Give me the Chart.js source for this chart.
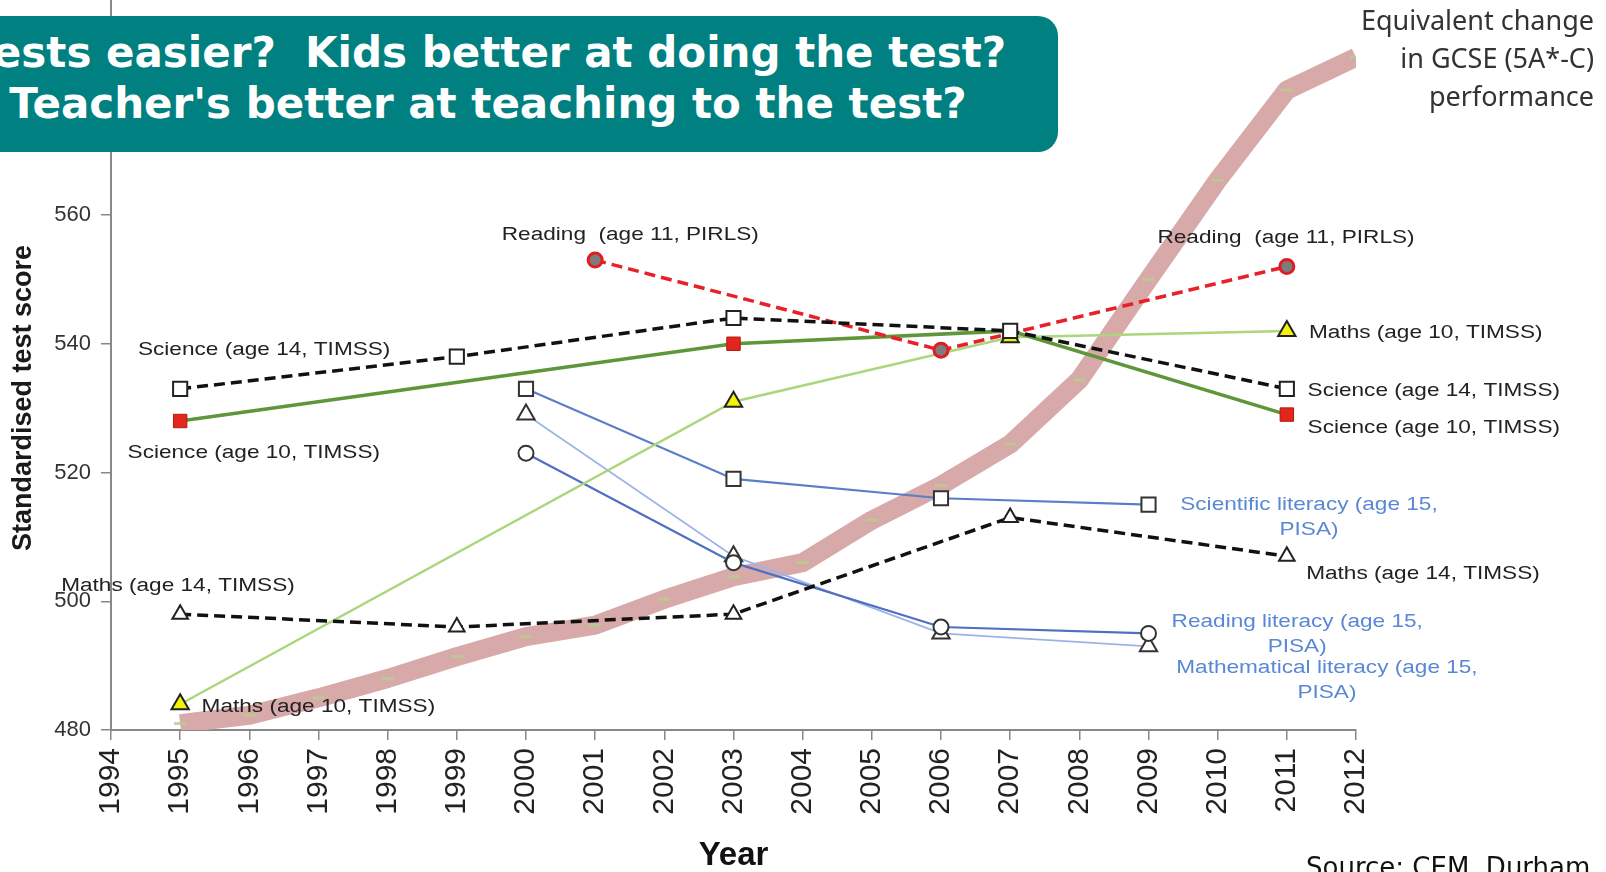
<!DOCTYPE html>
<html>
<head>
<meta charset="utf-8">
<title>Standardised test scores</title>
<script src="https://cdn.jsdelivr.net/npm/chart.js@4.4.1/dist/chart.umd.min.js"></script>
<style>
  html, body { margin: 0; padding: 0; background: #fff; overflow: hidden; }
  #wrap { position: relative; width: 1606px; height: 872px; overflow: hidden; }
  #scores { position: absolute; left: 0; top: 0; }
  .banner {
    position: absolute; left: -82px; top: 16px; width: 1140px; height: 136px;
    box-sizing: border-box; padding-top: 11px;
    background: #008080; border-radius: 20px; color: #fff;
    font: bold 42px "DejaVu Sans", Verdana, sans-serif; line-height: 51px;
    text-align: center; white-space: pre;
  }
</style>
</head>
<body>
<div id="wrap">
  <canvas id="scores" width="1606" height="872"></canvas>
  <div class="banner">Tests easier?  Kids better at doing the test?
Teacher's better at teaching to the test?</div>
</div>
<script>
// values
const scoreTicks = [480, 500, 520, 540, 560];

const pirlsYears = [2001, 2006, 2011];
const pirlsReading = [553, 539, 552];

const timss14Years = [1995, 1999, 2003, 2007, 2011];
const science14 = [533, 538, 544, 542, 533];
const maths14 = [498, 496, 498, 513, 507];

const timss10Years = [1995, 2003, 2007, 2011];
const science10 = [528, 540, 542, 529];
const maths10 = [484, 531, 541, 542];

const pisaYears = [2000, 2003, 2006, 2009];
const pisaScience = [533, 519, 516, 515];
const pisaReading = [523, 506, 496, 495];
const pisaMaths = [529, 507, 495, 493];

const gcseYears = [1995, 1996, 1997, 1998, 1999, 2000, 2001, 2002, 2003,
                   2004, 2005, 2006, 2007, 2008, 2009, 2010, 2011, 2012];
const gcseEquivalent = [481, 482.3, 485, 488, 491.4, 494.5, 496.3, 500.3, 503.8,
                        506, 512.6, 518, 524.4, 534.4, 550, 565.4, 579.4, 584.5];

const pts = (xs, ys) => xs.map((x, i) => ({ x: x, y: ys[i] }));

// text labels placed in data units
const BLUE = '#5a88d4';
const notes = [
  { text: 'Reading  (age 11, PIRLS)', year: 1999.65, score: 556.9 },
  { text: 'Reading  (age 11, PIRLS)', year: 2009.13, score: 556.5 },
  { text: 'Science (age 14, TIMSS)', year: 1994.39, score: 539.1 },
  { text: 'Science (age 10, TIMSS)', year: 1994.24, score: 523.0 },
  { text: 'Maths (age 14, TIMSS)', year: 1993.28, score: 502.3 },
  { text: 'Maths (age 10, TIMSS)', year: 1995.31, score: 483.6 },
  { text: 'Maths (age 10, TIMSS)', year: 2011.32, score: 541.6 },
  { text: 'Science (age 14, TIMSS)', year: 2011.30, score: 532.7 },
  { text: 'Science (age 10, TIMSS)', year: 2011.30, score: 526.9 },
  { text: 'Maths (age 14, TIMSS)', year: 2011.28, score: 504.2 },
  { text: 'Scientific literacy (age 15,', year: 2011.32, score: 514.95, align: 'center', color: BLUE },
  { text: 'PISA)', year: 2011.32, score: 511.1, align: 'center', color: BLUE },
  { text: 'Reading literacy (age 15,', year: 2011.15, score: 496.8, align: 'center', color: BLUE },
  { text: 'PISA)', year: 2011.15, score: 492.9, align: 'center', color: BLUE },
  { text: 'Mathematical literacy (age 15,', year: 2011.58, score: 489.7, align: 'center', color: BLUE },
  { text: 'PISA)', year: 2011.58, score: 485.7, align: 'center', color: BLUE }
];

const notesPlugin = {
  id: 'notes',
  afterDraw(chart) {
    const ctx = chart.ctx;
    const xs = chart.scales.x, ys = chart.scales.y;
    ctx.save();
    ctx.textBaseline = 'middle';
    ctx.font = '22.6px "Liberation Sans", Arial, sans-serif';
    notes.forEach(n => {
      ctx.save();
      ctx.translate(xs.getPixelForValue(n.year), ys.getPixelForValue(n.score));
      ctx.scale(1, 0.8);
      ctx.fillStyle = n.color || '#222';
      ctx.textAlign = n.align || 'left';
      ctx.fillText(n.text, 0, 0);
      ctx.restore();
    });

    // y axis title
    ctx.save();
    ctx.translate(24, 398);
    ctx.rotate(-Math.PI / 2);
    ctx.font = 'bold 27px "Liberation Sans", Arial, sans-serif';
    ctx.fillStyle = '#1a1a1a';
    ctx.textAlign = 'center';
    ctx.fillText('Standardised test score', 0, 0);
    ctx.restore();

    // GCSE note
    ctx.font = '27px "Noto Sans", "Open Sans", sans-serif';
    ctx.fillStyle = '#333';
    ctx.textAlign = 'right';
    ctx.fillText('Equivalent change', 1594, 22);
    ctx.fillText('in GCSE (5A*-C)', 1594, 60);
    ctx.fillText('performance', 1594, 98);

    // source
    ctx.font = '26px "DejaVu Sans", Verdana, sans-serif';
    ctx.fillStyle = '#111';
    ctx.textAlign = 'left';
    ctx.textBaseline = 'alphabetic';
    ctx.fillText('Source: CEM, Durham', 1306, 876);
    ctx.restore();
  }
};

Chart.defaults.font.family = '"Liberation Sans", Arial, sans-serif';

new Chart(document.getElementById('scores').getContext('2d'), {
  type: 'line',
  data: {
    datasets: [
      {
        label: 'Science (age 14, TIMSS)',
        data: pts(timss14Years, science14),
        borderColor: '#111', borderWidth: 3.5, borderDash: [11, 6],
        pointStyle: 'rect', pointRadius: 10,
        pointBackgroundColor: '#fff', pointBorderColor: '#222', pointBorderWidth: 2,
        order: 1
      },
      {
        label: 'Reading (age 11, PIRLS)',
        data: pts(pirlsYears, pirlsReading),
        borderColor: '#e8202a', borderWidth: 3.5, borderDash: [11, 6],
        pointStyle: 'circle', pointRadius: 7,
        pointBackgroundColor: '#7d7d7d', pointBorderColor: '#e01c24', pointBorderWidth: 3,
        order: 2
      },
      {
        label: 'Maths (age 14, TIMSS)',
        data: pts(timss14Years, maths14),
        borderColor: '#111', borderWidth: 3.5, borderDash: [11, 6],
        pointStyle: 'triangle', pointRadius: 9,
        pointBackgroundColor: '#fff', pointBorderColor: '#222', pointBorderWidth: 2,
        order: 3
      },
      {
        label: 'Science (age 10, TIMSS)',
        data: pts(timss10Years, science10),
        borderColor: '#5f9639', borderWidth: 3.5,
        pointStyle: 'rect', pointRadius: [9.5, 9.5, 0, 9.5],
        pointBackgroundColor: '#e3261b', pointBorderColor: '#b01a10', pointBorderWidth: 1,
        order: 4
      },
      {
        label: 'Maths (age 10, TIMSS)',
        data: pts(timss10Years, maths10),
        borderColor: '#acd67c', borderWidth: 2.5,
        pointStyle: 'triangle', pointRadius: 10,
        pointBackgroundColor: '#f2f20a', pointBorderColor: '#222', pointBorderWidth: 2,
        order: 5
      },
      {
        label: 'Scientific literacy (age 15, PISA)',
        data: pts(pisaYears, pisaScience),
        borderColor: '#5a7fc8', borderWidth: 2.2,
        pointStyle: 'rect', pointRadius: 10,
        pointBackgroundColor: '#fff', pointBorderColor: '#333', pointBorderWidth: 2,
        order: 6
      },
      {
        label: 'Reading literacy (age 15, PISA)',
        data: pts(pisaYears, pisaReading),
        borderColor: '#4f6fc0', borderWidth: 2.2,
        pointStyle: 'circle', pointRadius: 7.5,
        pointBackgroundColor: '#fff', pointBorderColor: '#333', pointBorderWidth: 2,
        order: 7
      },
      {
        label: 'Mathematical literacy (age 15, PISA)',
        data: pts(pisaYears, pisaMaths),
        borderColor: '#9db4e6', borderWidth: 1.8,
        pointStyle: 'triangle', pointRadius: 10,
        pointBackgroundColor: '#fff', pointBorderColor: '#333', pointBorderWidth: 2,
        order: 8
      },
      {
        label: 'Equivalent change in GCSE (5A*-C) performance',
        data: pts(gcseYears, gcseEquivalent),
        borderColor: '#d8a9a9', borderWidth: 19, borderJoinStyle: 'round',
        pointStyle: 'line', pointRadius: 6,
        pointBorderColor: 'rgba(185,205,140,0.85)', pointBorderWidth: 3,
        clip: 0,
        order: 9
      }
    ]
  },
  options: {
    responsive: false,
    animation: false,
    events: [],
    layout: { autoPadding: false, padding: { left: 0, right: 250, top: 0, bottom: 0 } },
    plugins: { legend: { display: false }, tooltip: { enabled: false } },
    scales: {
      x: {
        type: 'linear', min: 1994, max: 2012,
        border: { color: '#888', width: 2 },
        grid: { drawOnChartArea: false, tickLength: 10, color: '#888', lineWidth: 1.5 },
        ticks: {
          stepSize: 1, autoSkip: false, minRotation: 90, maxRotation: 90,
          padding: 8, color: '#222', font: { size: 30 },
          callback: v => String(v)
        },
        title: {
          display: true, text: 'Year', color: '#111',
          font: { size: 33, weight: 'bold', lineHeight: 1 }, padding: { top: 0, bottom: 0 }
        },
        afterFit: s => { s.height = 142; s.paddingLeft = 0; s.paddingRight = 0; }
      },
      y: {
        min: 480, max: 593.4,
        border: { color: '#888', width: 2 },
        grid: { drawOnChartArea: false, tickLength: 10, color: '#888', lineWidth: 1.5 },
        ticks: { padding: 10, color: '#333', font: { size: 22 } },
        afterBuildTicks: s => { s.ticks = scoreTicks.map(v => ({ value: v })); },
        afterFit: s => { s.width = 111; s.paddingTop = 0; s.paddingBottom = 0; }
      }
    }
  },
  plugins: [notesPlugin]
});
</script>
</body>
</html>
